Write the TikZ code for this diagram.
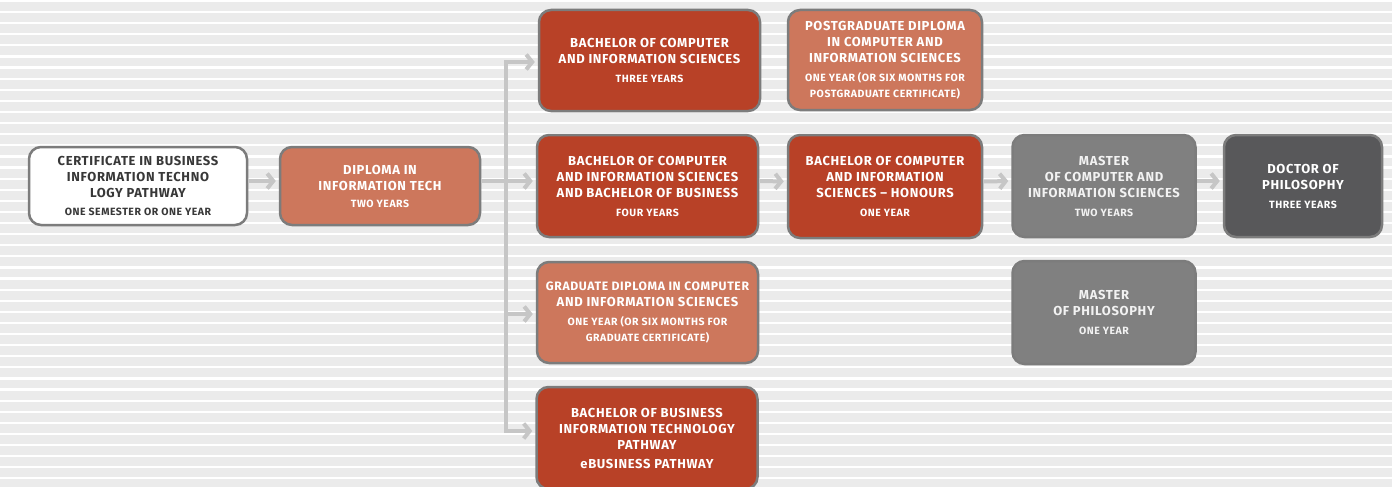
\documentclass[tikz,border=0pt]{standalone}
\usepackage{fontspec}
\setmainfont{Fira Sans}[LetterSpace=5]
\usetikzlibrary{arrows.meta}
\definecolor{bgstripe}{HTML}{EBEBEB}
\definecolor{redbox}{HTML}{B84127}
\definecolor{salmon}{HTML}{CD775C}
\definecolor{midgray}{HTML}{808080}
\definecolor{darkbox}{HTML}{58585A}
\definecolor{edgecol}{HTML}{7C7C7C}
\definecolor{conncol}{HTML}{C6C6C6}
\definecolor{certtext}{HTML}{383838}
\newcommand\subline[1]{{\fontsize{10.5}{15}\selectfont #1}}
\newcommand\tightline[1]{{\fontsize{12.2}{16}\selectfont #1}}
\tikzset{
  box/.style={draw=edgecol, line width=2.5pt, rounded corners=12pt, align=center,
    inner sep=0pt, text=white, font=\bfseries\fontsize{13}{16}\selectfont},
  certbox/.style={box, fill=white, text=certtext},
  redb/.style={box, fill=redbox},
  salb/.style={box, fill=salmon},
  grayb/.style={box, fill=midgray, text=white!95!black},
  darkb/.style={box, fill=darkbox},
  conn/.style={draw=conncol, line width=4pt},
  arr/.style={conn, -{Straight Barb[length=6pt,width=15pt]}, shorten >=3pt},
}
\begin{document}
\begin{tikzpicture}[x=1pt,y=-1pt]
\useasboundingbox (0,0) rectangle (1392,487);
\fill[white] (0,0) rectangle (1392,487);
\foreach \i in {0,...,43} \fill[bgstripe] (0,{11.1*\i+2.1}) rectangle (1392,{11.1*\i+11.0});

\node[certbox, minimum width=218pt, minimum height=78pt] (cert) at (138,186)
  {CERTIFICATE IN BUSINESS\\INFORMATION TECHNO\\LOGY PATHWAY\\[1.5pt]\subline{ONE SEMESTER OR ONE YEAR}};
\node[salb, minimum width=200pt, minimum height=78pt] (dip) at (380,186)
  {DIPLOMA IN\\INFORMATION TECH\\[1pt]\subline{TWO YEARS}};
\node[redb, minimum width=221pt, minimum height=101pt] (bcis) at (649.5,60.5)
  {BACHELOR OF COMPUTER\\AND INFORMATION SCIENCES\\[3pt]\subline{THREE YEARS}};
\node[salb, minimum width=194pt, minimum height=100pt] (pgd) at (885,60)
  {POSTGRADUATE DIPLOMA\\IN COMPUTER AND\\INFORMATION SCIENCES\\[3pt]\subline{ONE YEAR (OR SIX MONTHS FOR}\\\subline{POSTGRADUATE CERTIFICATE)}};
\node[redb, minimum width=221pt, minimum height=102pt] (bcisb) at (647.5,186)
  {BACHELOR OF COMPUTER\\AND INFORMATION SCIENCES\\AND BACHELOR OF BUSINESS\\[3pt]\subline{FOUR YEARS}};
\node[redb, minimum width=194pt, minimum height=103pt] (hon) at (885,186.5)
  {BACHELOR OF COMPUTER\\AND INFORMATION\\SCIENCES -- HONOURS\\[3pt]\subline{ONE YEAR}};
\node[grayb, minimum width=183pt, minimum height=102pt] (mcis) at (1104,186)
  {MASTER\\OF COMPUTER AND\\INFORMATION SCIENCES\\[3pt]\subline{TWO YEARS}};
\node[darkb, minimum width=158pt, minimum height=102pt] (phd) at (1303,186)
  {DOCTOR OF\\PHILOSOPHY\\[3pt]\subline{THREE YEARS}};
\node[salb, minimum width=221pt, minimum height=101pt] (gd) at (647.5,312.5)
  {\tightline{GRADUATE DIPLOMA IN COMPUTER}\\AND INFORMATION SCIENCES\\[3pt]\subline{ONE YEAR (OR SIX MONTHS FOR}\\\subline{GRADUATE CERTIFICATE)}};
\node[redb, minimum width=221pt, minimum height=102pt] (bbit) at (647,438)
  {BACHELOR OF BUSINESS\\INFORMATION TECHNOLOGY\\PATHWAY\\[3pt]eBUSINESS PATHWAY};
\node[grayb, minimum width=183pt, minimum height=103pt] (mphil) at (1104,312.5)
  {MASTER\\OF PHILOSOPHY\\[3pt]\subline{ONE YEAR}};

\coordinate (bus) at (506,181);
\draw[arr] ([yshift=5pt]cert.east) -- ([yshift=5pt]dip.west);
\draw[conn] ([yshift=5pt]dip.east) -- (bus);
\draw[arr] (bus) -- ([yshift=5pt]bcisb.west);
\draw[arr] (bus) |- ([yshift=-1.5pt]bcis.west);
\draw[arr] (bus) |- ([yshift=-1.5pt]gd.west);
\draw[arr] (bus) |- ([yshift=7pt]bbit.west);
\draw[arr] ([yshift=5pt]bcisb.east) -- ([yshift=5pt]hon.west);
\draw[arr] ([yshift=5pt]hon.east) -- ([yshift=5pt]mcis.west);
\draw[arr] ([yshift=5pt]mcis.east) -- ([yshift=5pt]phd.west);
\end{tikzpicture}
\end{document}
